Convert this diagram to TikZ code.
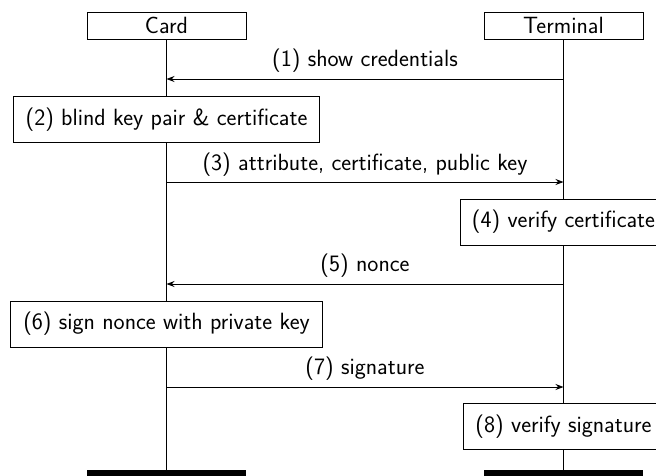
\documentclass[tikz,border=0pt]{standalone}
\usetikzlibrary{arrows.meta}
\begin{document}
\begin{tikzpicture}[x=1pt,y=-1pt,
  font=\fontsize{23.5}{28}\selectfont\sffamily,
  ln/.style={line width=0.9pt},
  inst/.style={draw,ln,minimum width=159pt,minimum height=27pt,inner sep=0pt},
  act/.style={draw,ln,fill=white,minimum height=46pt,inner sep=0pt},
  msg/.style={ln,-{Stealth[length=8pt,width=6pt]}},
  lbl/.style={anchor=base,inner sep=0pt},
  endbar/.style={fill=black,minimum width=159pt,minimum height=10pt,inner sep=0pt,anchor=north}]
\clip (0,0) rectangle (656,475);
\fill[white] (0,0) rectangle (656,475);
% instances
\node[inst] (card) at (166.5,25.5) {Card};
\node[inst] (term) at (563.5,25.5) {Terminal};
\node[endbar] (cend) at (166.5,469.5) {};
\node[endbar] (tend) at (563.5,469.5) {};
% lifelines
\draw[ln] (card.south) -- (cend.north);
\draw[ln] (term.south) -- (tend.north);
% coordinates on lifelines
\coordinate (c1) at (166.5,79);
\coordinate (t1) at (563.5,79);
\coordinate (c3) at (166.5,182);
\coordinate (t3) at (563.5,182);
\coordinate (c5) at (166.5,284);
\coordinate (t5) at (563.5,284);
\coordinate (c7) at (166.5,387);
\coordinate (t7) at (563.5,387);
% actions
\node[act,minimum width=306pt] (a2) at (166.5,119.5) {(2) blind key pair \& certificate};
\node[act,minimum width=207pt] (a4) at (563.5,222) {(4) verify certificate};
\node[act,minimum width=312pt] (a6) at (166.5,324) {(6) sign nonce with private key};
\node[act,minimum width=201pt] (a8) at (563.5,426.5) {(8) verify signature};
% messages
\draw[msg] (t1) -- node[lbl,yshift=13pt] {(1) show credentials} (c1);
\draw[msg] (c3) -- node[lbl,yshift=12pt] {(3) attribute, certificate, public key} (t3);
\draw[msg] (t5) -- node[lbl,yshift=13pt] {(5) nonce} (c5);
\draw[msg] (c7) -- node[lbl,yshift=13pt] {(7) signature} (t7);
\end{tikzpicture}
\end{document}
